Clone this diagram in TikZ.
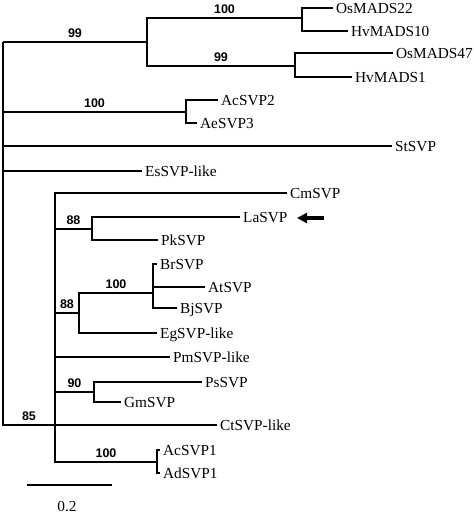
\documentclass[tikz,border=0pt]{standalone}
\usepackage{fontspec}
\setmainfont{Liberation Serif}
\newfontfamily\bsfont{Liberation Sans}
\usetikzlibrary{arrows.meta}
\begin{document}
\begin{tikzpicture}[x=1pt,y=-1pt,
  br/.style={line width=2.7pt},
  leaf/.style={anchor=west, inner xsep=3pt, inner ysep=0pt, text height=10pt, text depth=0pt, font=\fontsize{15.3}{15.3}\selectfont},
  bs/.style={pos=0.75, anchor=south, inner sep=0pt, yshift=3.5pt, text height=9pt, text depth=0pt, font=\bsfont\bfseries\fontsize{12.5}{12.5}\selectfont},
  scalelab/.style={font=\fontsize{15.3}{15.3}\selectfont, inner sep=0pt}]
\useasboundingbox (0,0) rectangle (474,515);
% internal nodes
\coordinate (R) at (3,42);
\coordinate (A) at (147,42);
\coordinate (B1) at (302,18);
\coordinate (B2) at (295,66);
\coordinate (C) at (186,112);
\coordinate (D) at (55,425);
\coordinate (E) at (92,229);
\coordinate (F) at (79,313);
\coordinate (G) at (153,293);
\coordinate (H) at (94,392);
\coordinate (I) at (157,462);
% leaves
\node[leaf] (osm22) at (333,8) {OsMADS22};
\node[leaf] (hvm10) at (348,31) {HvMADS10};
\node[leaf] (osm47) at (393,53) {OsMADS47};
\node[leaf] (hvm1) at (352,77) {HvMADS1};
\node[leaf] (acsvp2) at (218,100) {AcSVP2};
\node[leaf] (aesvp3) at (197,123) {AeSVP3};
\node[leaf] (stsvp) at (392,146) {StSVP};
\node[leaf] (essvp) at (142,171) {EsSVP-like};
\node[leaf] (cmsvp) at (287,193) {CmSVP};
\node[leaf] (lasvp) at (240,217) {LaSVP};
\node[leaf] (pksvp) at (158,240) {PkSVP};
\node[leaf] (brsvp) at (157,264) {BrSVP};
\node[leaf] (atsvp) at (205,287) {AtSVP};
\node[leaf] (bjsvp) at (177,308) {BjSVP};
\node[leaf] (egsvp) at (157,333) {EgSVP-like};
\node[leaf] (pmsvp) at (170,357) {PmSVP-like};
\node[leaf] (pssvp) at (202,382) {PsSVP};
\node[leaf] (gmsvp) at (121,402) {GmSVP};
\node[leaf] (ctsvp) at (217,425) {CtSVP-like};
\node[leaf] (acsvp1) at (160,450) {AcSVP1};
\node[leaf] (adsvp1) at (160,473) {AdSVP1};
% branches
\draw[br] (R) |- node[bs]{99} (A);
\draw[br] (A) |- node[bs]{100} (B1);
\draw[br] (A) |- node[bs]{99} (B2);
\draw[br] (B1) |- (osm22.west);
\draw[br] (B1) |- (hvm10.west);
\draw[br] (B2) |- (osm47.west);
\draw[br] (B2) |- (hvm1.west);
\draw[br] (R) |- node[bs]{100} (C);
\draw[br] (C) |- (acsvp2.west);
\draw[br] (C) |- (aesvp3.west);
\draw[br] (R) |- (stsvp.west);
\draw[br] (R) |- (essvp.west);
\draw[br] (R) |- node[bs]{85} (D);
\draw[br] (D) |- (cmsvp.west);
\draw[br] (D) |- node[bs]{88} (E);
\draw[br] (E) |- (lasvp.west);
\draw[br] (E) |- (pksvp.west);
\draw[br] (D) |- node[bs]{88} (F);
\draw[br] (F) |- node[bs]{100} (G);
\draw[br] (G) |- (brsvp.west);
\draw[br] (G) |- (atsvp.west);
\draw[br] (G) |- (bjsvp.west);
\draw[br] (F) |- (egsvp.west);
\draw[br] (D) |- (pmsvp.west);
\draw[br] (D) |- node[bs]{90} (H);
\draw[br] (H) |- (pssvp.west);
\draw[br] (H) |- (gmsvp.west);
\draw[br] (D) |- (ctsvp.west);
\draw[br] (D) |- node[bs]{100} (I);
\draw[br] (I) |- (acsvp1.west);
\draw[br] (I) |- (adsvp1.west);
% arrow pointing at LaSVP
\coordinate (arrT) at (324,218);
\coordinate (arrH) at (297,218);
\draw[line width=3.2pt,-{Triangle[length=10pt,width=10pt]}] (arrT) -- (arrH);
% scale bar
\coordinate (sbL) at (27,485);
\coordinate (sbR) at (112,485);
\draw[br] (sbL) -- (sbR);
\node[scalelab] (sblab) at (67,507) {0.2};
\end{tikzpicture}
\end{document}
